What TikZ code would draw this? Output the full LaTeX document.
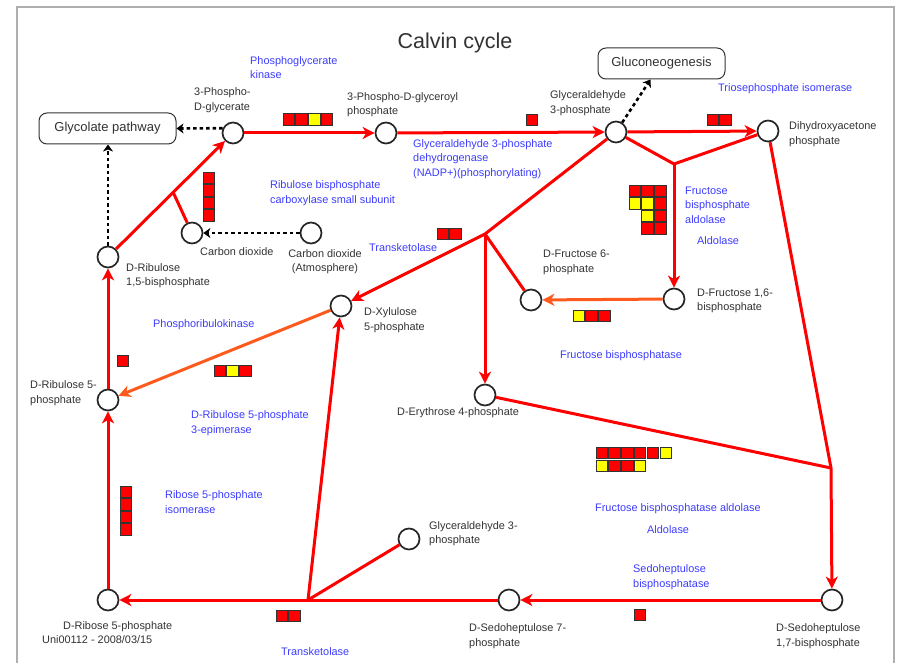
\documentclass[tikz,border=0pt]{standalone}
\usepackage{fontspec}
\setmainfont{Liberation Sans}
\usetikzlibrary{arrows.meta,calc}
\definecolor{pathred}{RGB}{255,0,0}
\definecolor{pathorange}{RGB}{255,90,30}
\definecolor{enzblue}{RGB}{60,60,255}
\definecolor{labelgray}{RGB}{50,50,50}
\definecolor{framegray}{RGB}{175,175,175}
\definecolor{geneR}{RGB}{255,0,0}
\definecolor{geneY}{RGB}{255,255,0}

% a row / column of gene boxes starting at a top-left corner
\newcommand\generow[3]{\foreach \gc [count=\gi from 0] in {#3}{\draw[gene,fill=\gc] ({#1+12.8*\gi},#2) rectangle ++(11.5,11.5);}}
\newcommand\genecol[3]{\foreach \gc [count=\gi from 0] in {#3}{\draw[gene,fill=\gc] (#1,{#2+12.6*\gi}) rectangle ++(11.5,11.5);}}

\begin{document}
\begin{tikzpicture}[x=1pt,y=-1pt,
  metab/.style={circle,draw=black!85,line width=1.7pt,fill=white,minimum size=21pt,inner sep=0pt},
  reac/.style={draw=pathred,line width=3pt},
  reacarrow/.style={reac,-{Stealth[length=12pt,width=12pt,inset=3.5pt]}},
  orangearrow/.style={draw=pathorange,line width=3pt,-{Stealth[length=12pt,width=12pt,inset=3.5pt]}},
  linkarrow/.style={draw=black,line width=2.6pt,dash pattern=on 3.5pt off 3pt,-{Stealth[length=7pt,width=10pt,inset=2pt]}},
  lbl/.style={text=labelgray,font=\fontsize{10.9}{14.5}\selectfont,inner sep=0pt,anchor=west,align=left},
  enz/.style={lbl,text=enzblue},
  pathbox/.style={draw=black!80,line width=1pt,rounded corners=8pt,fill=white,font=\fontsize{13}{15}\selectfont,text=labelgray},
  gene/.style={draw=black!80,line width=0.9pt}
]
\useasboundingbox (0,0) rectangle (899,663);
% frame
\draw[framegray,line width=1.5pt] (17,663) -- (17,7) -- (894,7) -- (894,663);

% title
\node[font=\fontsize{21.5}{24}\selectfont,text=labelgray] (title) at (455,43) {Calvin cycle};

% metabolites
\node[metab] (pga) at (233,133) {};
\node[metab] (bpg) at (386,133) {};
\node[metab] (gap) at (616,132) {};
\node[metab] (dhap) at (768,131) {};
\node[metab] (co2) at (192,233) {};
\node[metab] (co2atm) at (311,233) {};
\node[metab] (rubp) at (108,257) {};
\node[metab] (xu5p) at (341,306) {};
\node[metab] (ru5p) at (108,400) {};
\node[metab] (f6p) at (531,300) {};
\node[metab] (fbp) at (674,299) {};
\node[metab] (e4p) at (485,395) {};
\node[metab] (gapb) at (409,539) {};
\node[metab] (r5p) at (108,600) {};
\node[metab] (s7p) at (509,600) {};
\node[metab] (sbp) at (832,600) {};

% linked pathways
\node[pathbox,minimum width=137pt,minimum height=31pt] (glyc) at (107.5,128.5) {Glycolate pathway};
\node[pathbox,minimum width=127pt,minimum height=31pt] (gluco) at (661.5,63.5) {Gluconeogenesis};

% branch points
\coordinate (jx) at (485,234);
\coordinate (jf) at (674,164);
\coordinate (js) at (831,468);
\coordinate (jt) at (308,600);
\coordinate (jc) at (173,192);

% reactions
\draw[reacarrow] (pga) -- (bpg);
\draw[reacarrow] (bpg) -- (gap);
\draw[reacarrow] (gap) -- (dhap);
\draw[reac] (gap) -- (jf) -- (dhap);
\draw[reacarrow] (jf) -- (fbp);
\draw[reacarrow] (gap) -- (jx) -- (xu5p);
\draw[reacarrow] (jx) -- (e4p);
\draw[reac] (jx) -- (f6p);
\draw[orangearrow] (fbp) -- (f6p);
\draw[reacarrow] (dhap) -- (js) -- (sbp);
\draw[reac] (e4p) -- (js);
\draw[reacarrow] (sbp) -- (s7p);
\draw[reacarrow] (s7p) -- (r5p);
\draw[reacarrow] (jt) -- (xu5p);
\draw[reac] (jt) -- (gapb);
\draw[reacarrow] (r5p) -- (ru5p);
\draw[orangearrow] (xu5p) -- (ru5p);
\draw[reacarrow] (ru5p) -- (rubp);
\draw[reacarrow] (rubp) -- (pga);
\draw[reac] (jc) -- (co2);

% links to other pathways
\draw[linkarrow] (pga.155) -- (glyc.east);
\draw[linkarrow] (rubp) -- (rubp |- glyc.south);
\draw[linkarrow] (gap) -- ($(gluco.south)+(-11,0)$);
\draw[linkarrow] (co2atm) -- (co2);

% metabolite labels
\node[lbl] (l-pga) at (194,100) {3-Phospho-\\D-glycerate};
\node[lbl] (l-bpg) at (347,104.5) {3-Phospho-D-glyceroyl\\phosphate};
\node[lbl] (l-gap) at (550,103) {Glyceraldehyde\\3-phosphate};
\node[lbl] (l-dhap) at (789,134) {Dihydroxyacetone\\phosphate};
\node[lbl] (l-co2) at (200,252) {Carbon dioxide};
\node[lbl,anchor=center,align=center] (l-co2atm) at (325,261.5) {Carbon dioxide\\(Atmosphere)};
\node[lbl] (l-rubp) at (126,275.5) {D-Ribulose\\1,5-bisphosphate};
\node[lbl] (l-xu5p) at (364,320) {D-Xylulose\\5-phosphate};
\node[lbl] (l-ru5p) at (30,393) {D-Ribulose 5-\\phosphate};
\node[lbl] (l-f6p) at (543,262.5) {D-Fructose 6-\\phosphate};
\node[lbl] (l-fbp) at (697,301) {D-Fructose 1,6-\\bisphosphate};
\node[lbl] (l-e4p) at (397,413) {D-Erythrose 4-phosphate};
\node[lbl] (l-gapb) at (429,533.5) {Glyceraldehyde 3-\\phosphate};
\node[lbl] (l-r5p) at (63,627) {D-Ribose 5-phosphate};
\node[lbl] (l-s7p) at (469,636) {D-Sedoheptulose 7-\\phosphate};
\node[lbl] (l-sbp) at (776,636) {D-Sedoheptulose\\1,7-bisphosphate};
\node[lbl] (stamp) at (42,640) {Uni00112 - 2008/03/15};

% enzyme labels
\node[enz] (e-pgk) at (250,67.5) {Phosphoglycerate\\kinase};
\node[enz] (e-gapdh) at (413,159) {Glyceraldehyde 3-phosphate\\dehydrogenase\\(NADP+)(phosphorylating)};
\node[enz] (e-tpi) at (718,89) {Triosephosphate isomerase};
\node[enz] (e-rbcs) at (270,193) {Ribulose bisphosphate\\carboxylase small subunit};
\node[enz] (e-tk1) at (369,248) {Transketolase};
\node[enz] (e-fba) at (685,205) {Fructose\\bisphosphate\\aldolase};
\node[enz] (e-ald1) at (697,241) {Aldolase};
\node[enz] (e-prk) at (153,325) {Phosphoribulokinase};
\node[enz] (e-fbpase) at (560,356) {Fructose bisphosphatase};
\node[enz] (e-rpe) at (191,423) {D-Ribulose 5-phosphate\\3-epimerase};
\node[enz] (e-rpi) at (165,502) {Ribose 5-phosphate\\isomerase};
\node[enz] (e-fbpald) at (595,509) {Fructose bisphosphatase aldolase};
\node[enz] (e-ald2) at (647,530) {Aldolase};
\node[enz] (e-sbpase) at (633,577) {Sedoheptulose\\bisphosphatase};
\node[enz] (e-tk2) at (281,652) {Transketolase};

% gene boxes
\generow{283}{113.5}{geneR,geneR,geneY,geneR}
\generow{526}{114}{geneR}
\generow{707}{114}{geneR,geneR}
\genecol{203}{172}{geneR,geneR,geneR,geneR}
\generow{437}{228}{geneR,geneR}
\generow{629}{185}{geneR,geneR,geneR}
\generow{629}{197.6}{geneY,geneY,geneR}
\generow{641.8}{210.2}{geneY,geneR}
\generow{641.8}{222.8}{geneR,geneR}
\generow{573}{310}{geneY,geneR,geneR}
\generow{117}{355}{geneR}
\generow{214}{365}{geneR,geneY,geneR}
\genecol{120}{486}{geneR,geneR,geneR,geneR}
\generow{596}{447}{geneR,geneR,geneR,geneR,geneR,geneY}
\generow{596}{460}{geneY,geneR,geneR,geneY}
\generow{634}{609}{geneR}
\generow{276}{610}{geneR,geneR}
\end{tikzpicture}
\end{document}
